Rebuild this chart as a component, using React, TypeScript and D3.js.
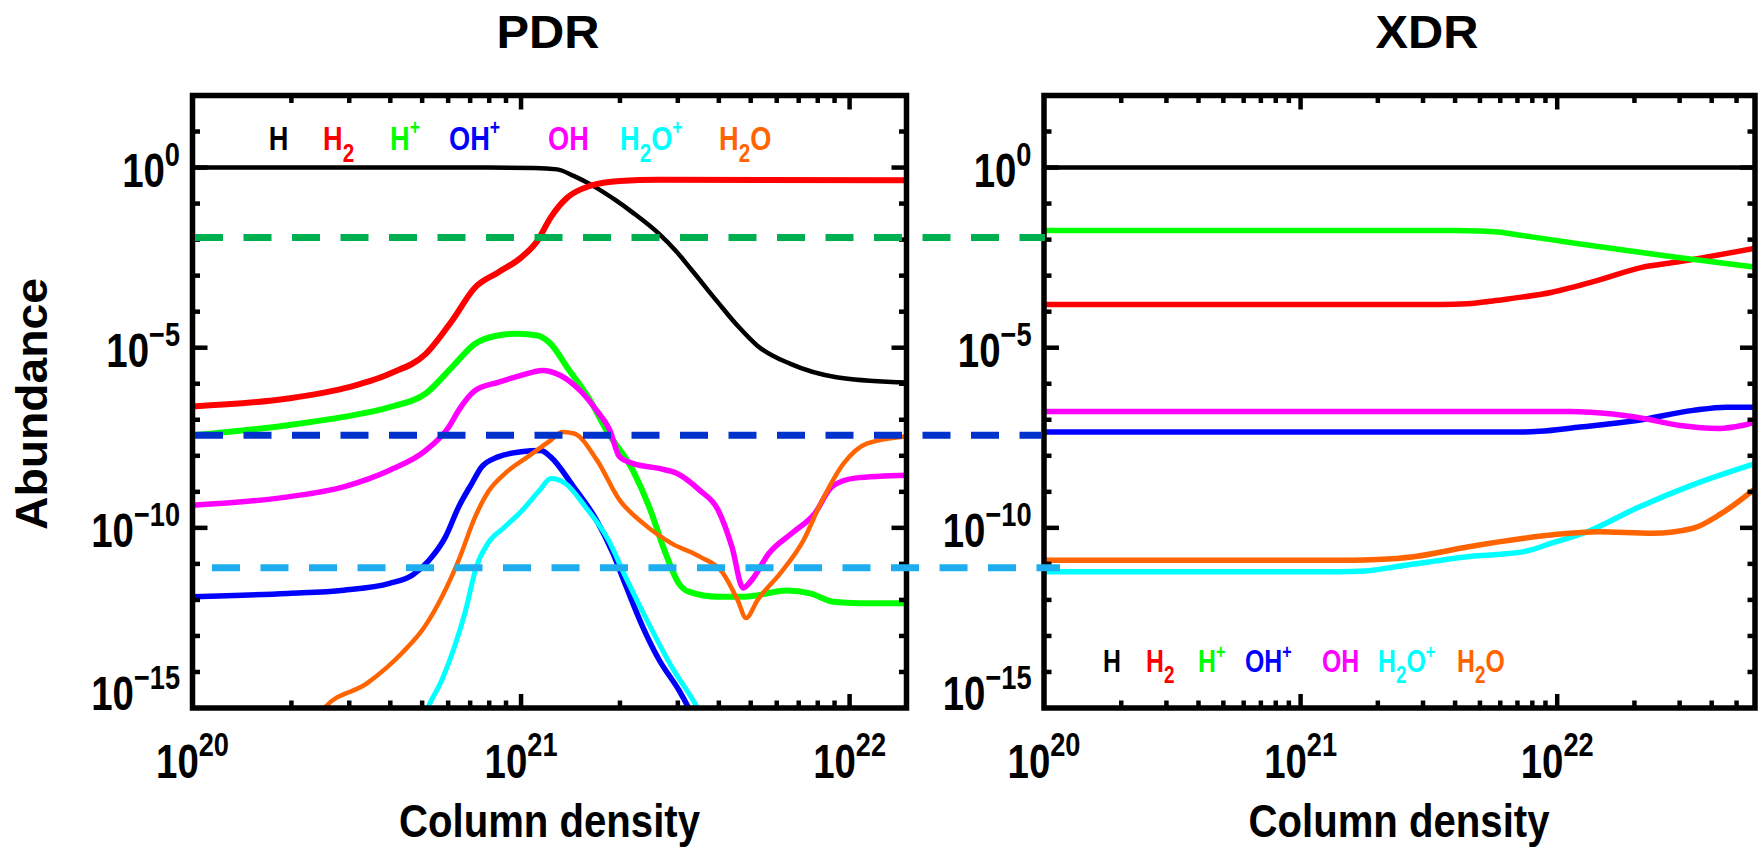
import React from "react";
import * as d3 from "d3";

const W = 1758;
const H = 850;
const FONT = "'Liberation Sans', Arial, Helvetica, sans-serif";

// ---------- data (log10 column density, log10 abundance) ----------
const SPECIES = ["H", "H2", "H+", "OH+", "OH", "H2O+", "H2O"];
const COLORS = ["#000000", "#ff0000", "#00ff00", "#0000ff", "#ff00ff", "#00ffff", "#ff6400"];

// PDR
const pdrH_N = [20, 20.9, 21.04, 21.11, 21.16, 21.21, 21.29, 21.34, 21.42, 21.47, 21.52, 21.6, 21.66, 21.72, 21.82, 21.96, 22.15, 22.18];
const pdrH_A = [0, 0, -0.01, -0.05, -0.23, -0.46, -0.92, -1.25, -1.84, -2.3, -2.85, -3.75, -4.4, -4.95, -5.45, -5.82, -5.96, -5.97];

const pdrH2_N = [20, 20.29, 20.46, 20.6, 20.71, 20.79, 20.86, 20.93, 21.0, 21.05, 21.09, 21.14, 21.21, 21.3, 21.42, 22.18];
const pdrH2_A = [-6.63, -6.41, -6.13, -5.72, -5.17, -4.25, -3.33, -2.91, -2.5, -2.03, -1.39, -0.84, -0.51, -0.37, -0.34, -0.35];

const pdrHp_N = [20, 20.29, 20.46, 20.6, 20.71, 20.79, 20.86, 20.93, 20.99, 21.05, 21.09, 21.14, 21.21, 21.26, 21.34, 21.39, 21.44, 21.48, 21.51, 21.6, 21.68, 21.81, 21.88, 21.95, 22.03, 22.18];
const pdrHp_A = [-7.43, -7.15, -6.92, -6.65, -6.27, -5.54, -4.89, -4.66, -4.61, -4.66, -4.89, -5.54, -6.46, -7.29, -8.4, -9.42, -10.71, -11.54, -11.77, -11.91, -11.91, -11.74, -11.82, -12.05, -12.09, -12.09];

const pdrOHp_N = [20, 20.29, 20.46, 20.6, 20.67, 20.72, 20.77, 20.81, 20.85, 20.88, 20.93, 21.0, 21.06, 21.09, 21.16, 21.23, 21.28, 21.32, 21.37, 21.42, 21.48, 21.51, 21.55];
const pdrOHp_A = [-11.91, -11.82, -11.73, -11.54, -11.31, -10.9, -10.25, -9.42, -8.77, -8.31, -8.03, -7.89, -7.85, -8.03, -8.86, -9.79, -10.71, -11.63, -12.74, -13.66, -14.5, -15, -15.8];

const pdrOH_N = [20, 20.29, 20.46, 20.6, 20.71, 20.78, 20.81, 20.86, 20.93, 21.0, 21.065, 21.12, 21.18, 21.23, 21.27, 21.3, 21.34, 21.42, 21.475, 21.544, 21.6, 21.642, 21.676, 21.702, 21.754, 21.824, 21.894, 21.946, 22.016, 22.18];
const pdrOH_A = [-9.37, -9.14, -8.86, -8.4, -7.85, -7.2, -6.74, -6.19, -5.96, -5.77, -5.63, -5.77, -6.19, -6.74, -7.29, -8.03, -8.21, -8.35, -8.49, -8.96, -9.51, -10.53, -11.67, -11.45, -10.71, -10.15, -9.6, -8.86, -8.62, -8.54];

const pdrH2Op_N = [20.68, 20.716, 20.759, 20.794, 20.829, 20.864, 20.899, 20.951, 21.004, 21.056, 21.091, 21.135, 21.196, 21.266, 21.318, 21.388, 21.458, 21.537, 21.57];
const pdrH2Op_A = [-15.9, -15, -14.22, -13.39, -12.37, -11.08, -10.43, -9.97, -9.51, -8.96, -8.63, -8.77, -9.42, -10.34, -11.36, -12.65, -13.85, -15, -15.6];

const pdrH2O_N = [20.37, 20.401, 20.532, 20.637, 20.707, 20.76, 20.81, 20.86, 20.9, 20.95, 21.02, 21.09, 21.126, 21.161, 21.231, 21.3, 21.371, 21.458, 21.544, 21.614, 21.659, 21.685, 21.72, 21.79, 21.86, 21.912, 21.982, 22.052, 22.18];
const pdrH2O_A = [-15.4, -15, -14.31, -13.48, -12.74, -11.9, -10.9, -9.7, -9.0, -8.5, -8.03, -7.57, -7.34, -7.38, -8.12, -9.23, -9.87, -10.43, -10.8, -11.25, -12.0, -12.5, -12.0, -11.25, -10.34, -9.32, -8.21, -7.66, -7.45];

// XDR
const xdrH_N = [20, 22.8];
const xdrH_A = [0, 0];

const xdrH2_N = [20, 21.55, 21.65, 21.76, 21.98, 22.155, 22.33, 22.46, 22.8];
const xdrH2_A = [-3.8, -3.8, -3.78, -3.69, -3.46, -3.14, -2.77, -2.63, -2.2];

const xdrHp_N = [20, 21.6, 21.7, 21.77, 21.85, 22.09, 22.42, 22.8];
const xdrHp_A = [-1.75, -1.75, -1.76, -1.79, -1.87, -2.12, -2.45, -2.79];

const xdrOHp_N = [20, 21.85, 21.93, 22.09, 22.31, 22.53, 22.66, 22.8];
const xdrOHp_A = [-7.34, -7.34, -7.32, -7.2, -7.02, -6.74, -6.65, -6.65];

const xdrOH_N = [20, 22.05, 22.13, 22.31, 22.48, 22.63, 22.72, 22.8];
const xdrOH_A = [-6.77, -6.77, -6.79, -6.93, -7.16, -7.24, -7.16, -7.0];

const xdrH2Op_N = [20, 21.15, 21.25, 21.37, 21.65, 21.87, 21.98, 22.12, 22.31, 22.53, 22.8];
const xdrH2Op_A = [-11.22, -11.22, -11.2, -11.08, -10.8, -10.66, -10.42, -10.1, -9.45, -8.8, -8.15];

const xdrH2O_N = [20, 21.2, 21.3, 21.44, 21.65, 21.87, 22.0, 22.16, 22.37, 22.53, 22.64, 22.8];
const xdrH2O_A = [-10.9, -10.9, -10.88, -10.8, -10.53, -10.29, -10.18, -10.11, -10.15, -10.01, -9.6, -8.75];

// horizontal reference levels (log10 abundance)
const REF_LEVELS = [-1.94, -7.43, -11.11];
const REF_COLORS = ["#00b050", "#0033cc", "#1eaef0"];

const Y_TICK_LABELS = [0, -5, -10, -15];
const X_TICK_LABELS = [20, 21, 22];

// ---------- layout ----------
const Y_TOP = 95.5;
const Y_BOT = 708;

const zip = (n: number[], a: number[]) => n.map((v, i) => [v, a[i]] as [number, number]);

const PANELS = [
  {
    title: "PDR",
    titleX: 548,
    x0: 192.5,
    x1: 906.5,
    xMax: 1.49e22,
    series: [
      zip(pdrH_N, pdrH_A),
      zip(pdrH2_N, pdrH2_A),
      zip(pdrHp_N, pdrHp_A),
      zip(pdrOHp_N, pdrOHp_A),
      zip(pdrOH_N, pdrOH_A),
      zip(pdrH2Op_N, pdrH2Op_A),
      zip(pdrH2O_N, pdrH2O_A),
    ],
    widths: [4.5, 6, 6, 5.5, 5.5, 5, 4.5],
    legendX: [268.7, 323, 390, 449, 548, 620, 719],
    legendY: 150,
    legendSize: 34,
    xlabelX: 549.5,
  },
  {
    title: "XDR",
    titleX: 1427,
    x0: 1044,
    x1: 1755,
    xMax: 5.9e22,
    series: [
      zip(xdrH_N, xdrH_A),
      zip(xdrH2_N, xdrH2_A),
      zip(xdrHp_N, xdrHp_A),
      zip(xdrOHp_N, xdrOHp_A),
      zip(xdrOH_N, xdrOH_A),
      zip(xdrH2Op_N, xdrH2Op_A),
      zip(xdrH2O_N, xdrH2O_A),
    ],
    widths: [4.5, 5.5, 5.5, 5.5, 5.5, 5.5, 5.5],
    legendX: [1103, 1146, 1198, 1245, 1322, 1378, 1457],
    legendY: 672,
    legendSize: 31,
    xlabelX: 1399,
  },
];

const yScale = d3.scaleLog().domain([1e-15, 1e2]).range([Y_BOT, Y_TOP]);

function formula(label: string, size: number) {
  const out: JSX.Element[] = [];
  let cur = 0;
  label.split("").forEach((c, i) => {
    let target = 0;
    let fs = size;
    if (/[0-9]/.test(c)) {
      target = size * 0.35;
      fs = size * 0.76;
    } else if (c === "+") {
      target = -size * 0.43;
      fs = size * 0.65;
    }
    const dy = target - cur;
    cur = target;
    out.push(
      <tspan key={i} dy={dy} fontSize={fs}>
        {c}
      </tspan>
    );
  });
  return out;
}

function Pow({ x, y, exp, anchor }: { x: number; y: number; exp: number; anchor: string }) {
  const sup = exp < 0 ? `\u2212${-exp}` : `${exp}`;
  return (
    <g transform={`translate(${x},${y}) scale(0.8,1)`}>
      <text textAnchor={anchor as any} fontFamily={FONT} fontWeight="bold" fontSize={48} fill="#000">
        10
        <tspan fontSize={34} dy={-21.5}>
          {sup}
        </tspan>
      </text>
    </g>
  );
}

function Panel({ p, idx }: { p: (typeof PANELS)[number]; idx: number }) {
  const x = d3.scaleLog().domain([1e20, p.xMax]).range([p.x0, p.x1]);
  const line = d3
    .line<[number, number]>()
    .x((d) => x(Math.pow(10, d[0])))
    .y((d) => yScale(Math.pow(10, d[1])))
    .curve(d3.curveMonotoneX);

  const xTicks: { v: number; major: boolean }[] = [];
  for (let d = 20; d <= 23; d++) {
    for (let k = 1; k <= 9; k++) {
      const v = k * Math.pow(10, d);
      if (v > 1e20 && v < p.xMax) xTicks.push({ v, major: k === 1 });
    }
  }
  const yTicks: { v: number; major: boolean }[] = [];
  for (let e = -14; e <= 1; e++) yTicks.push({ v: Math.pow(10, e), major: e % 5 === 0 });

  const clipId = `clip${idx}`;
  return (
    <g>
      <defs>
        <clipPath id={clipId}>
          <rect x={p.x0} y={Y_TOP} width={p.x1 - p.x0} height={Y_BOT - Y_TOP} />
        </clipPath>
      </defs>
      <g clipPath={`url(#${clipId})`}>
        {p.series.map((s, i) => (
          <path
            key={i}
            d={line(s) || ""}
            fill="none"
            stroke={COLORS[i]}
            strokeWidth={p.widths[i]}
            strokeLinejoin="round"
          />
        ))}
      </g>
      <rect x={p.x0} y={Y_TOP} width={p.x1 - p.x0} height={Y_BOT - Y_TOP} fill="none" stroke="#000" strokeWidth={5.5} />
      {xTicks.map((t, i) => {
        const xx = x(t.v);
        const len = t.major ? 14 : 7.5;
        return (
          <g key={"xt" + i} stroke="#000" strokeWidth={4.5}>
            <line x1={xx} x2={xx} y1={Y_BOT} y2={Y_BOT - len} />
            <line x1={xx} x2={xx} y1={Y_TOP} y2={Y_TOP + len} />
          </g>
        );
      })}
      {yTicks.map((t, i) => {
        const yy = yScale(t.v);
        const len = t.major ? 15 : 7.5;
        return (
          <g key={"yt" + i} stroke="#000" strokeWidth={4.5}>
            <line x1={p.x0} x2={p.x0 + len} y1={yy} y2={yy} />
            <line x1={p.x1} x2={p.x1 - len} y1={yy} y2={yy} />
          </g>
        );
      })}
      {Y_TICK_LABELS.map((e) => (
        <Pow key={"yl" + e} x={p.x0 - 12.5} y={Math.min(yScale(Math.pow(10, e)) + 19.5, Y_BOT + 2)} exp={e} anchor="end" />
      ))}
      {X_TICK_LABELS.map((e) => (
        <Pow key={"xl" + e} x={x(Math.pow(10, e))} y={777.5} exp={e} anchor="middle" />
      ))}
      <text x={p.titleX} y={48} textAnchor="middle" fontFamily={FONT} fontWeight="bold" fontSize={46} textLength={103} lengthAdjust="spacingAndGlyphs">
        {p.title}
      </text>
      <text x={p.xlabelX} y={837} textAnchor="middle" fontFamily={FONT} fontWeight="bold" fontSize={46} textLength={301} lengthAdjust="spacingAndGlyphs">
        Column density
      </text>
      {SPECIES.map((s, i) => (
        <g key={"lg" + i} transform={`translate(${p.legendX[i]},${p.legendY}) scale(0.8,1)`}>
          <text fontFamily={FONT} fontWeight="bold" fontSize={p.legendSize} fill={COLORS[i]}>
            {formula(s, p.legendSize)}
          </text>
        </g>
      ))}
    </g>
  );
}

export default function App() {
  const xL = d3.scaleLog().domain([1e20, PANELS[0].xMax]).range([PANELS[0].x0, PANELS[0].x1]);
  const xR = d3.scaleLog().domain([1e20, PANELS[1].xMax]).range([PANELS[1].x0, PANELS[1].x1]);
  const refExtent = [
    [2.5, 1],
    [2.5, -2],
    [19.5, 16],
  ];
  return (
    <svg width={W} height={H} viewBox={`0 0 ${W} ${H}`} style={{ position: "absolute", left: 0, top: 0, background: "#fff" }}>
      <rect x={0} y={0} width={W} height={H} fill="#fff" />
      {PANELS.map((p, i) => (
        <Panel key={i} p={p} idx={i} />
      ))}
      {REF_LEVELS.map((lv, i) => (
        <line
          key={"ref" + i}
          x1={xL(1e20) + refExtent[i][0]}
          x2={xR(1e20) + refExtent[i][1]}
          y1={yScale(Math.pow(10, lv))}
          y2={yScale(Math.pow(10, lv))}
          stroke={REF_COLORS[i]}
          strokeWidth={7}
          strokeDasharray="28 20.5"
        />
      ))}
      <text
        transform={`translate(47,404) rotate(-90)`}
        textAnchor="middle"
        fontFamily={FONT}
        fontWeight="bold"
        fontSize={44}
        textLength={252}
        lengthAdjust="spacingAndGlyphs"
      >
        Abundance
      </text>
    </svg>
  );
}
